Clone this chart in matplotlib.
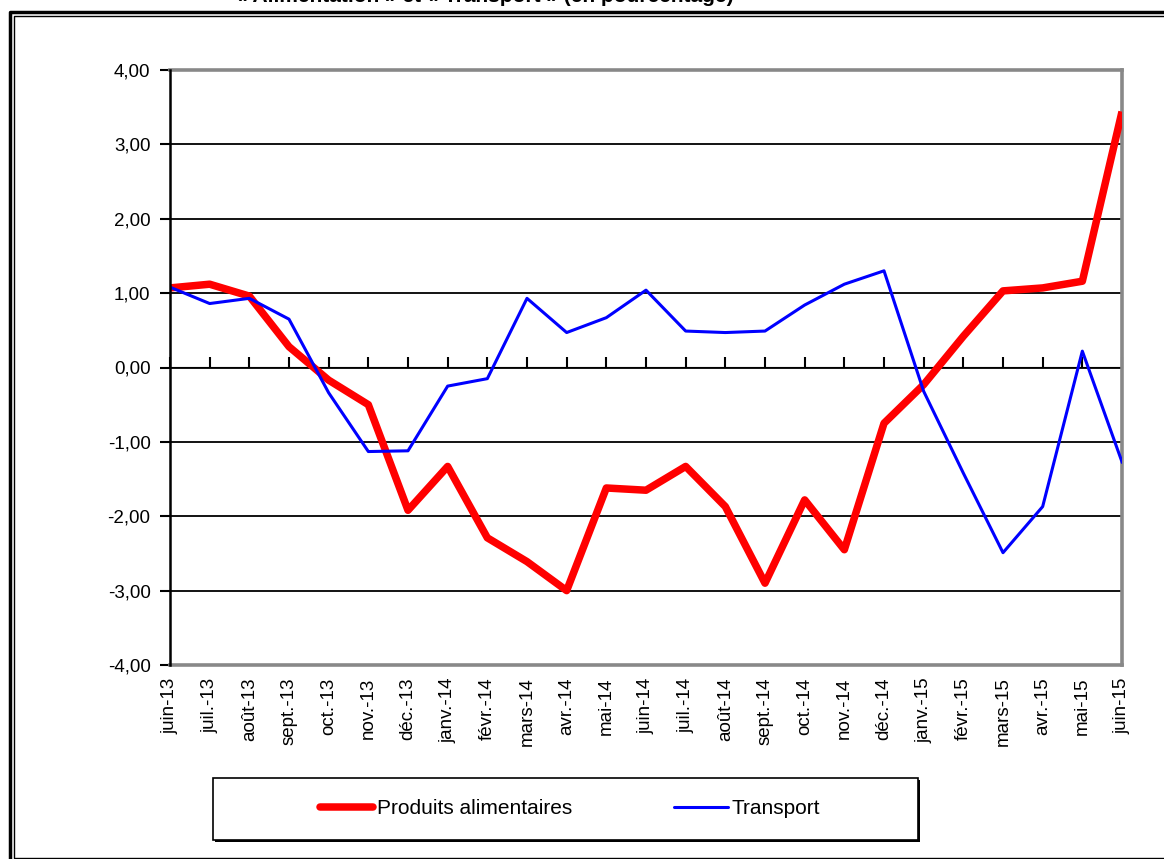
import numpy as np
import matplotlib
matplotlib.use("Agg")
import matplotlib.pyplot as plt
from matplotlib.patches import Rectangle
from matplotlib.lines import Line2D

plt.rcParams['font.family'] = ['Liberation Sans', 'DejaVu Sans']

# données
mois = ["juin-13", "juil.-13", "août-13", "sept.-13", "oct.-13", "nov.-13",
        "déc.-13", "janv.-14", "févr.-14", "mars-14", "avr.-14", "mai-14",
        "juin-14", "juil.-14", "août-14", "sept.-14", "oct.-14", "nov.-14",
        "déc.-14", "janv.-15", "févr.-15", "mars-15", "avr.-15", "mai-15",
        "juin-15"]
alimentaires = [1.07, 1.12, 0.96, 0.28, -0.17, -0.50, -1.92, -1.33, -2.29,
                -2.61, -3.00, -1.62, -1.65, -1.33, -1.87, -2.90, -1.78,
                -2.45, -0.75, -0.23, 0.42, 1.03, 1.07, 1.16, 3.44]
transport = [1.08, 0.86, 0.93, 0.65, -0.34, -1.13, -1.12, -0.25, -0.15,
             0.93, 0.47, 0.67, 1.04, 0.49, 0.47, 0.49, 0.84, 1.12, 1.30,
             -0.32, -1.42, -2.49, -1.87, 0.22, -1.27]
yticks = [-4, -3, -2, -1, 0, 1, 2, 3, 4]

W, H = 1164, 859
fig = plt.figure(figsize=(W / 100, H / 100), dpi=100)
ax = fig.add_axes([170 / W, 1 - 665 / H, (1122 - 170) / W, (665 - 70) / H])

x = np.arange(len(mois))

# grille horizontale
for v in yticks[1:-1]:
    ax.axhline(v, color="black", linewidth=1.3, zorder=1)

ax.plot(x, alimentaires, color="#ff0000", linewidth=5.4,
        solid_joinstyle="round", solid_capstyle="butt", zorder=3,
        label="Produits alimentaires")
ax.plot(x, transport, color="#0000ff", linewidth=2.2, zorder=4,
        label="Transport")

ax.set_xlim(0, len(mois) - 1)
ax.set_ylim(-4, 4)
ax.set_yticks(yticks)
ax.set_yticklabels([f"{v:.2f}".replace(".", ",") for v in yticks])
ax.set_xticks(x)
ax.set_xticklabels(mois, rotation=90)
ax.tick_params(axis="x", length=0, pad=9, labelsize=13.5)
ax.tick_params(axis="y", length=7, width=1.5, direction="out", labelsize=13.5,
               pad=7)

for s in ["top", "right", "bottom"]:
    ax.spines[s].set_color("#888888")
    ax.spines[s].set_linewidth(2.6)
ax.spines["left"].set_color("black")
ax.spines["left"].set_linewidth(1.8)
ax.spines["left"].set_zorder(5)

# axe des catégories à 0
sec = ax.secondary_xaxis(0.5)
sec.set_xticks(x)
sec.set_xticklabels([])
sec.tick_params(axis="x", length=7, width=1.5, direction="out", color="black")
sec.spines["bottom"].set_linewidth(1.8)
sec.spines["bottom"].set_color("black")

# titre (coupé en haut)
fig.text(485 / W, 1 - 6 / H, "« Alimentation » et « Transport » (en pourcentage)",
         ha="center", va="bottom", fontsize=15, fontweight="bold")

# cadre de la page
fig.add_artist(Line2D([9.5 / W, 9.5 / W, 1.0], [0, 1 - 11.5 / H, 1 - 11.5 / H],
                      transform=fig.transFigure, color="black", linewidth=2.5))
fig.add_artist(Line2D([1.0, 14 / W, 14 / W, 1.0],
                      [1 - 16 / H, 1 - 16 / H, 1 - 857.5 / H, 1 - 857.5 / H],
                      transform=fig.transFigure, color="black", linewidth=1.0))

# légende
fig.patches.append(Rectangle((215 / W, 1 - 842 / H), 705 / W, 62 / H,
                             transform=fig.transFigure, facecolor="black",
                             edgecolor="none", zorder=0))
fig.patches.append(Rectangle((213 / W, 1 - 840 / H), 705 / W, 62 / H,
                             transform=fig.transFigure, facecolor="white",
                             edgecolor="black", linewidth=1.2, zorder=1))
leg = fig.legend(loc="center", bbox_to_anchor=(570 / W, 1 - 809 / H), ncol=2,
                 frameon=False, fontsize=15, handlelength=2.55,
                 handletextpad=0.2, columnspacing=4.9)
for h in leg.legend_handles:
    h.set_solid_capstyle("round")

fig.savefig("out.png", dpi=100)
